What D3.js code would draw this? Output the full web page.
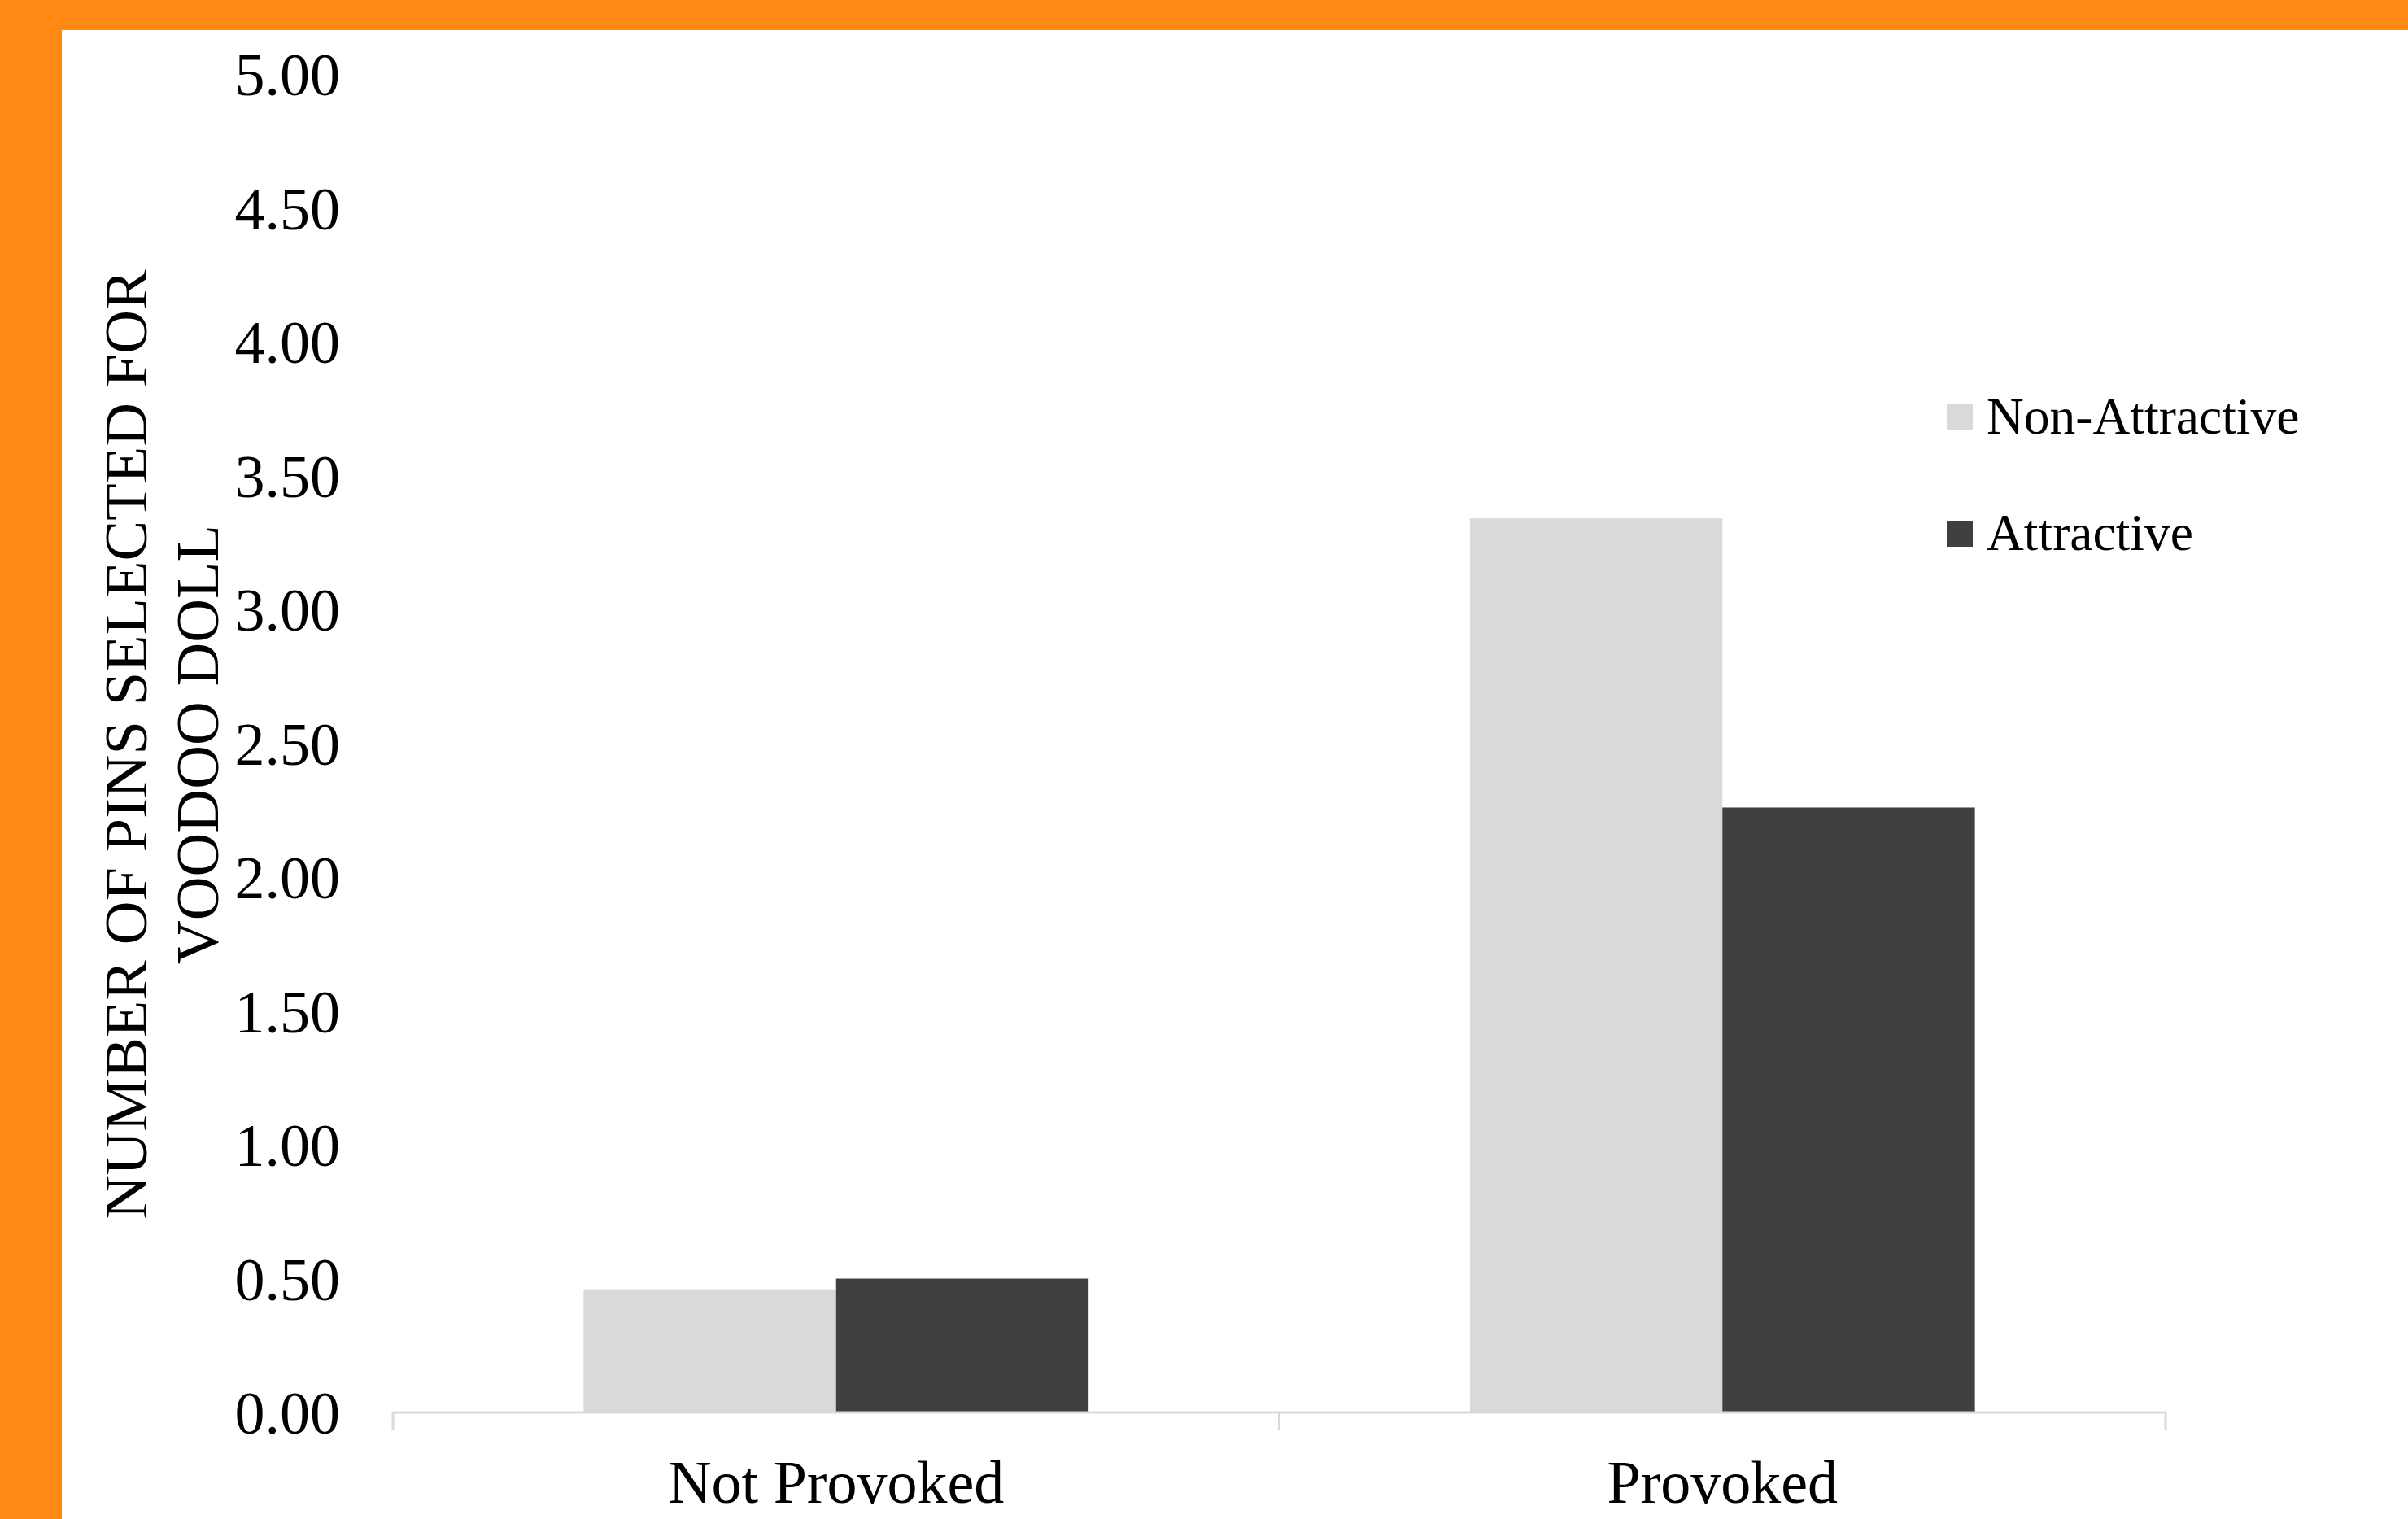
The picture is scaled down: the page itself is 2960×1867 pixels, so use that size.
<!DOCTYPE html>
<html>
<head>
<meta charset="utf-8">
<script src="https://cdn.jsdelivr.net/npm/d3@7"></script>
<style>
  html, body { margin: 0; padding: 0; background: #fff; }
  svg { display: block; }
  text { font-family: "Liberation Serif", "Times New Roman", serif; fill: #000; }
</style>
</head>
<body>
<svg id="chart" width="2960" height="1867"></svg>
<script>
// ---- data ----
const categories = ["Not Provoked", "Provoked"];
const seriesNames = ["Non-Attractive", "Attractive"];
const nonAttractive = [0.46, 3.34];
const attractive = [0.50, 2.26];
const yTicks = [0, 0.5, 1, 1.5, 2, 2.5, 3, 3.5, 4, 4.5, 5];
const yTitleLines = ["NUMBER OF PINS SELECTED FOR", "VOODOO DOLL"];
const seriesColors = ["#D9D9D9", "#404040"];

const seriesValues = [nonAttractive, attractive];

const W = 2960, H = 1867;
const svg = d3.select("#chart");

// frame
svg.append("rect").attr("x", 0).attr("y", 0).attr("width", W).attr("height", H).attr("fill", "#fff");
svg.append("rect").attr("x", 0).attr("y", 0).attr("width", W).attr("height", 37).attr("fill", "#FF8912");
svg.append("rect").attr("x", 0).attr("y", 0).attr("width", 76).attr("height", H).attr("fill", "#FF8912");

const plotLeft = 483, plotRight = 2662, plotTop = 91, plotBottom = 1736;

const y = d3.scaleLinear().domain([0, 5]).range([plotBottom, plotTop]);
const x0 = d3.scaleBand().domain(categories).range([plotLeft, plotRight]).paddingInner(0).paddingOuter(0);
const x1 = d3.scaleBand().domain(seriesNames).range([0, x0.bandwidth()]).paddingInner(0).paddingOuter(0.755);

// bars
const groups = svg.append("g").selectAll("g").data(categories).join("g")
  .attr("transform", d => `translate(${x0(d)},0)`);
groups.selectAll("rect")
  .data((c, ci) => seriesNames.map((s, si) => ({ s, si, v: seriesValues[si][ci] })))
  .join("rect")
  .attr("x", d => x1(d.s))
  .attr("width", x1.bandwidth())
  .attr("y", d => y(d.v))
  .attr("height", d => y(0) - y(d.v))
  .attr("fill", d => seriesColors[d.si]);

// y axis labels (no line)
const yAxis = d3.axisLeft(y).tickValues(yTicks).tickFormat(d3.format(".2f")).tickSize(0).tickPadding(0);
const yg = svg.append("g").attr("transform", `translate(418,0)`).call(yAxis);
yg.select(".domain").remove();
yg.selectAll("text").attr("font-size", 74).attr("font-family", "Liberation Serif").attr("fill", "#000").attr("dy", "0.35em");

// x axis
const xAxis = d3.axisBottom(x0).tickSize(0).tickPadding(0);
const xg = svg.append("g").attr("transform", `translate(0,${plotBottom})`).call(xAxis);
xg.select(".domain").remove();
xg.selectAll(".tick line").remove();
xg.selectAll("text").attr("font-size", 74).attr("font-family", "Liberation Serif").attr("fill", "#000")
  .attr("y", 111).attr("dy", 0);
// baseline + category boundary ticks
svg.append("line").attr("x1", plotLeft).attr("x2", plotRight).attr("y1", plotBottom).attr("y2", plotBottom)
  .attr("stroke", "#D9D9D9").attr("stroke-width", 3);
const boundaries = categories.map(c => x0(c)).concat([x0(categories[categories.length - 1]) + x0.bandwidth()]);
svg.append("g").selectAll("line").data(boundaries).join("line")
  .attr("x1", d => d).attr("x2", d => d).attr("y1", plotBottom).attr("y2", plotBottom + 22)
  .attr("stroke", "#D9D9D9").attr("stroke-width", 3);

// y axis title
const yt = svg.append("text")
  .attr("transform", `translate(180,915) rotate(-90)`)
  .attr("text-anchor", "middle")
  .attr("font-size", 74.5);
yt.selectAll("tspan").data(yTitleLines).join("tspan")
  .attr("x", 0).attr("dy", (d, i) => i === 0 ? 0 : 88)
  .text(d => d);

// legend
const legend = svg.append("g").selectAll("g").data(seriesNames).join("g")
  .attr("transform", (d, i) => `translate(2393,${497 + i * 143})`);
legend.append("rect").attr("width", 32).attr("height", 32).attr("fill", (d, i) => seriesColors[i]);
legend.append("text").attr("x", 49).attr("y", 36).attr("font-size", 63.5).text(d => d);
</script>
</body>
</html>
